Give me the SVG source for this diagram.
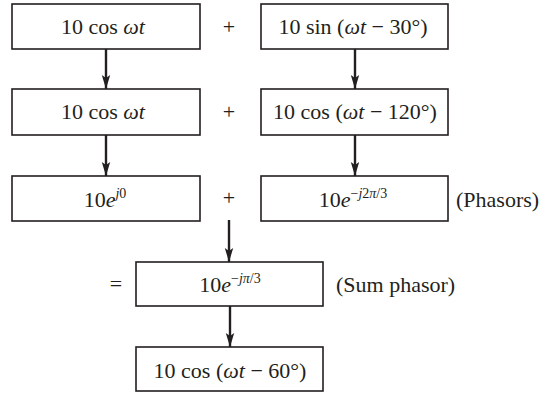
<svg xmlns="http://www.w3.org/2000/svg" width="550" height="393" viewBox="0 0 550 393">
<defs>
<marker id="ah" viewBox="-14 -5 15 10" refX="0" refY="0" markerWidth="15" markerHeight="10" markerUnits="userSpaceOnUse" orient="auto">
<path d="M0,0 L-14,-4.2 L-11,0 L-14,4.2 Z" fill="#231f20"/>
</marker>
<style>
.box{fill:#fff;stroke:#231f20;stroke-width:1.6}
.t{font-family:"Liberation Serif","Times New Roman",serif;font-size:22px;fill:#231f20;text-anchor:middle}
.l{font-family:"Liberation Serif","Times New Roman",serif;font-size:22px;fill:#231f20}
.i{font-style:italic}
.sup{font-size:14px}
.c{stroke:#231f20;stroke-width:2.4;fill:none;marker-end:url(#ah)}
</style>
</defs>
<rect width="550" height="393" fill="#fff"/>
<g id="connectors">
<line class="c" x1="106" y1="49" x2="106" y2="89"/>
<line class="c" x1="355" y1="49" x2="355" y2="89"/>
<line class="c" x1="106" y1="135" x2="106" y2="176"/>
<line class="c" x1="355" y1="135" x2="355" y2="176"/>
<line class="c" x1="229" y1="220" x2="229" y2="262"/>
<line class="c" x1="230" y1="306" x2="230" y2="347"/>
</g>
<g id="n1">
<rect class="box" x="12" y="4" width="188" height="45"/>
<text class="t" x="103" y="34">10 cos <tspan class="i">ωt</tspan></text>
</g>
<g id="n2">
<rect class="box" x="261" y="4" width="187" height="45"/>
<text class="t" x="353" y="34">10 sin (<tspan class="i">ωt</tspan> − 30°)</text>
</g>
<g id="n3">
<rect class="box" x="12" y="89" width="188" height="46"/>
<text class="t" x="103" y="119">10 cos <tspan class="i">ωt</tspan></text>
</g>
<g id="n4">
<rect class="box" x="261" y="89" width="187" height="46"/>
<text class="t" x="355" y="119">10 cos (<tspan class="i">ωt</tspan> − 120°)</text>
</g>
<g id="n5">
<rect class="box" x="12" y="176" width="188" height="45"/>
<text class="t" x="105" y="207">10<tspan class="i">e</tspan><tspan class="sup" dy="-9"><tspan class="i">j</tspan>0</tspan></text>
</g>
<g id="n6">
<rect class="box" x="261" y="176" width="187" height="45"/>
<text class="t" x="353" y="207">10<tspan class="i">e</tspan><tspan class="sup" dy="-9">−<tspan class="i">j</tspan>2<tspan class="i">π</tspan>/3</tspan></text>
</g>
<g id="n7">
<rect class="box" x="136" y="262" width="187" height="44"/>
<text class="t" x="230" y="292">10<tspan class="i">e</tspan><tspan class="sup" dy="-9">−<tspan class="i">j</tspan><tspan class="i">π</tspan>/3</tspan></text>
</g>
<g id="n8">
<rect class="box" x="136" y="347" width="187" height="44"/>
<text class="t" x="230" y="378">10 cos (<tspan class="i">ωt</tspan> − 60°)</text>
</g>
<g id="labels">
<text class="t" x="229" y="34">+</text>
<text class="t" x="229" y="119">+</text>
<text class="t" x="229" y="205">+</text>
<text class="t" x="116" y="291">=</text>
<text class="l" x="456" y="207">(Phasors)</text>
<text class="l" x="336" y="292">(Sum phasor)</text>
</g>
</svg>
